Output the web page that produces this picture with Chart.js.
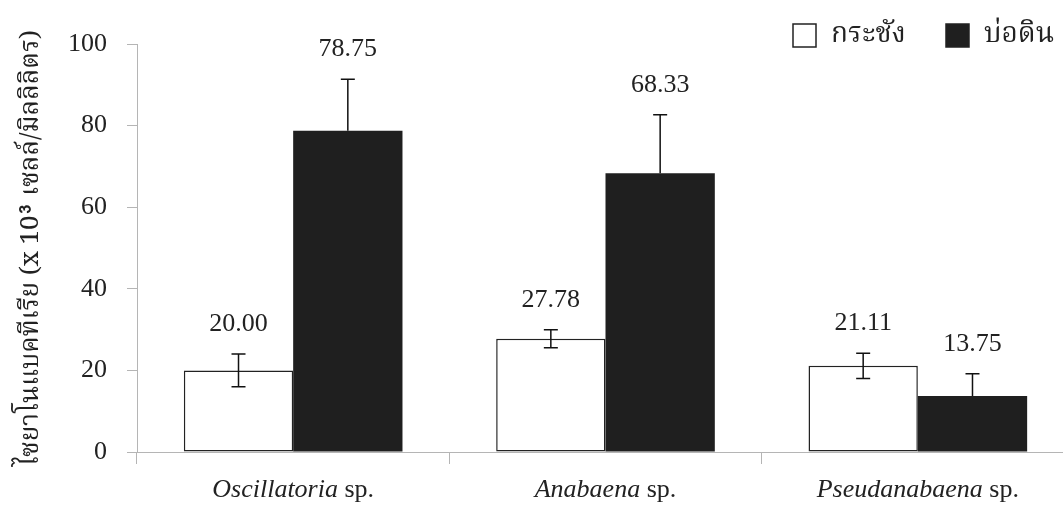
<!DOCTYPE html>
<html>
<head>
<meta charset="utf-8">
<script src="https://cdn.jsdelivr.net/npm/chart.js@4"></script>
<style>
html, body { margin: 0; padding: 0; background: #fff; overflow: hidden; }
</style>
</head>
<body>
<canvas id="chart" width="1077" height="510"></canvas>
<script>
const genera = ['Oscillatoria', 'Anabaena', 'Pseudanabaena'];
const seriesNames = ['กระชัง', 'บ่อดิน'];
const cageValues = [20.00, 27.78, 21.11];
const pondValues = [78.75, 68.33, 13.75];
const cageErrors = [4.0, 2.2, 3.1];
const pondErrors = [12.6, 14.3, 5.4];
const yTicks = [0, 20, 40, 60, 80, 100];
const yTitle = 'ไซยาโนแบคทีเรีย (x 10³ เซลล์/มิลลิลิตร)';

const serif = '"Liberation Serif", "Times New Roman", serif';
const thai = '"Noto Serif Thai", "Noto Sans Thai Looped", "Loma", "Garuda", "Norasi", "Noto Sans Thai", "Noto Sans", sans-serif';

// error bars, value labels, category names and legend
const extras = {
    id: 'extras',
    afterDatasetsDraw(chart) {
        const ctx = chart.ctx;
        const y = chart.scales.y;
        const x = chart.scales.x;
        chart.data.datasets.forEach((ds, di) => {
            chart.getDatasetMeta(di).data.forEach((bar, i) => {
                const v = ds.data[i];
                const e = ds.errors[i];
                const top = y.getPixelForValue(v + e);
                const mid = y.getPixelForValue(v);
                const bot = y.getPixelForValue(v - e);
                ctx.save();
                ctx.strokeStyle = '#111';
                ctx.lineWidth = 1.5;
                ctx.beginPath();
                ctx.moveTo(bar.x, ds.lowerWhisker ? bot : mid);
                ctx.lineTo(bar.x, top);
                ctx.moveTo(bar.x - 7, top);
                ctx.lineTo(bar.x + 7, top);
                if (ds.lowerWhisker) {
                    ctx.moveTo(bar.x - 7, bot);
                    ctx.lineTo(bar.x + 7, bot);
                }
                ctx.stroke();
                ctx.fillStyle = '#222';
                ctx.font = '26px ' + serif;
                ctx.textAlign = 'center';
                ctx.textBaseline = 'middle';
                ctx.fillText(v.toFixed(2), bar.x, top - 30);
                ctx.restore();
            });
        });

        // category labels: italic genus + upright "sp."
        ctx.save();
        ctx.fillStyle = '#222';
        ctx.textBaseline = 'middle';
        ctx.textAlign = 'left';
        genera.forEach((g, i) => {
            const cx = x.getPixelForValue(i);
            ctx.font = 'italic 26px ' + serif;
            const w1 = ctx.measureText(g).width;
            ctx.font = '26px ' + serif;
            const w2 = ctx.measureText(' sp.').width;
            const start = cx - (w1 + w2) / 2;
            ctx.font = 'italic 26px ' + serif;
            ctx.fillText(g, start, 490);
            ctx.font = '26px ' + serif;
            ctx.fillText(' sp.', start + w1, 490);
        });
        ctx.restore();

        // legend
        ctx.save();
        const items = [
            { x: 793, fill: '#fff' },
            { x: 946, fill: '#1f1f1f' }
        ];
        ctx.font = '28px ' + thai;
        ctx.textBaseline = 'middle';
        ctx.textAlign = 'left';
        items.forEach((it, i) => {
            ctx.fillStyle = it.fill;
            ctx.fillRect(it.x, 24, 23, 23);
            ctx.strokeStyle = '#222';
            ctx.lineWidth = 1.5;
            ctx.strokeRect(it.x, 24, 23, 23);
            ctx.fillStyle = '#222';
            ctx.fillText(seriesNames[i], it.x + 38, 37);
        });
        ctx.restore();
    }
};

new Chart(document.getElementById('chart'), {
    type: 'bar',
    data: {
        labels: genera.map(g => g + ' sp.'),
        datasets: [
            {
                label: seriesNames[0],
                data: cageValues,
                errors: cageErrors,
                lowerWhisker: true,
                backgroundColor: '#fff',
                borderColor: '#222',
                borderWidth: 1.5,
                borderSkipped: false
            },
            {
                label: seriesNames[1],
                data: pondValues,
                errors: pondErrors,
                lowerWhisker: false,
                backgroundColor: '#1f1f1f',
                borderColor: '#1f1f1f',
                borderWidth: 0
            }
        ]
    },
    options: {
        responsive: false,
        animation: false,
        categoryPercentage: 0.7,
        barPercentage: 1.0,
        layout: { padding: { top: 44, right: 3, left: 0, bottom: 0 } },
        plugins: {
            legend: { display: false },
            tooltip: { enabled: false }
        },
        scales: {
            x: {
                grid: {
                    offset: true,
                    drawOnChartArea: false,
                    drawTicks: true,
                    tickLength: 12,
                    color: '#b5b5b5'
                },
                border: { display: true, color: '#b5b5b5', width: 1 },
                ticks: { color: 'transparent', font: { size: 22, family: serif }, padding: 14 },
                afterFit(s) { s.height = 58; }
            },
            y: {
                min: 0,
                max: 100,
                afterBuildTicks(s) { s.ticks = yTicks.map(v => ({ value: v })); },
                grid: {
                    drawOnChartArea: false,
                    drawTicks: true,
                    tickLength: 10,
                    color: '#b5b5b5'
                },
                border: { display: true, color: '#b5b5b5', width: 1 },
                ticks: {
                    color: '#222',
                    padding: 20,
                    font: { size: 26, family: serif }
                },
                title: {
                    display: true,
                    text: yTitle,
                    color: '#222',
                    font: { size: 26, family: thai },
                    padding: { top: 18, bottom: 0 }
                },
                afterFit(s) { s.width = 137; }
            }
        }
    },
    plugins: [extras]
});
</script>
</body>
</html>
